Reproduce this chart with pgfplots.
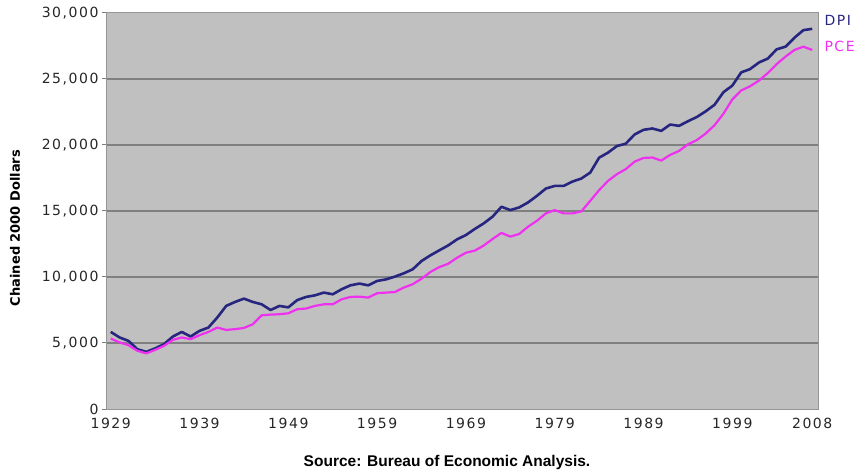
\documentclass[border=0pt]{standalone}
\usepackage{pgfplots}
\pgfplotsset{compat=1.18}
\usepackage{fontspec}
\setmainfont{DejaVu Sans}
\newfontfamily\tickfont{DejaVu Sans}[LetterSpace=11]
\newfontfamily\srcfont{Liberation Sans}
\definecolor{dpi}{RGB}{38,38,128}
\definecolor{pce}{RGB}{240,48,240}
\definecolor{plotbg}{RGB}{192,192,192}
\definecolor{gridc}{RGB}{128,128,128}
\definecolor{axisc}{RGB}{150,150,150}

\pgfplotstableread{
year dpi pce
1929 5840 5340
1930 5420 5040
1931 5160 4840
1932 4530 4410
1933 4330 4210
1934 4590 4480
1935 4910 4780
1936 5490 5240
1937 5840 5420
1938 5490 5290
1939 5920 5590
1940 6170 5840
1941 6930 6170
1942 7810 5990
1943 8110 6050
1944 8360 6140
1945 8110 6420
1946 7930 7100
1947 7500 7150
1948 7810 7180
1949 7700 7250
1950 8250 7560
1951 8490 7610
1952 8610 7810
1953 8820 7930
1954 8690 7930
1955 9070 8310
1956 9370 8490
1957 9500 8510
1958 9370 8440
1959 9700 8770
1960 9820 8820
1961 10030 8860
1962 10280 9200
1963 10580 9450
1964 11210 9870
1965 11640 10380
1966 12020 10750
1967 12390 11000
1968 12850 11460
1969 13180 11840
1970 13640 12000
1971 14060 12380
1972 14570 12880
1973 15320 13340
1974 15070 13060
1975 15270 13260
1976 15650 13810
1977 16150 14260
1978 16700 14820
1979 16900 15070
1980 16900 14820
1981 17230 14820
1982 17460 14970
1983 17910 15770
1984 19040 16580
1985 19420 17280
1986 19920 17790
1987 20100 18170
1988 20800 18740
1989 21150 19020
1990 21250 19050
1991 21070 18820
1992 21550 19250
1993 21450 19550
1994 21800 20050
1995 22120 20370
1996 22550 20870
1997 23050 21500
1998 24000 22370
1999 24500 23450
2000 25500 24130
2001 25750 24450
2002 26250 24880
2003 26550 25450
2004 27250 26130
2005 27450 26700
2006 28130 27200
2007 28700 27450
2008 28800 27200
}\datatable

\begin{document}
\begin{tikzpicture}
\path[use as bounding box] (-107bp,-66bp) rectangle (751bp,409bp);
\begin{axis}[
  at={(0,0)}, anchor=south west,
  scale only axis, width=711bp, height=396bp,
  xmin=1928.58, xmax=2008.65, ymin=0, ymax=30000,
  scaled y ticks=false, scaled x ticks=false,
  axis background/.style={fill=plotbg},
  axis line style={draw=axisc, line width=1bp},
  xtick={1929,1939,1949,1959,1969,1979,1989,1999,2008},
  xticklabels={1929,1939,1949,1959,1969,1979,1989,1999,2008},
  ytick={0,5000,10000,15000,20000,25000,30000},
  yticklabels={0,{5,000},{10,000},{15,000},{20,000},{25,000},{30,000}},
  xtick pos=bottom, ytick pos=left,
  xtick style={draw=none},
  ytick style={draw=gridc, line width=1bp},
  tick align=outside, major tick length=5bp,
  extra y ticks={5000,10000,15000,20000,25000},
  extra y tick labels={},
  extra y tick style={grid=major, major grid style={draw=gridc, line width=1.6bp}, major tick length=0pt},
  ticklabel style={font=\tickfont\fontsize{14bp}{16bp}\selectfont, text=black!85},
  xticklabel style={yshift=-1bp},
  clip=false,
]
\addplot[dpi, line width=2.6bp, line join=round] table[x=year, y=dpi] {\datatable};
\addplot[pce, line width=2.2bp, line join=round] table[x=year, y=pce] {\datatable};
\end{axis}
\node[anchor=west, text=dpi, font=\tickfont\fontsize{14bp}{16bp}\selectfont] at (714bp,389bp) {DPI};
\node[anchor=west, text=pce, font=\tickfont\fontsize{14bp}{16bp}\selectfont] at (714bp,363bp) {PCE};
\node[rotate=90, font=\bfseries\fontsize{13bp}{15bp}\selectfont] at (-92bp,181bp) {Chained 2000 Dollars};
\node[font=\srcfont\bfseries\fontsize{15.5bp}{17bp}\selectfont] at (340bp,-53bp) {Source: Bureau of Economic Analysis.};
\end{tikzpicture}
\end{document}
